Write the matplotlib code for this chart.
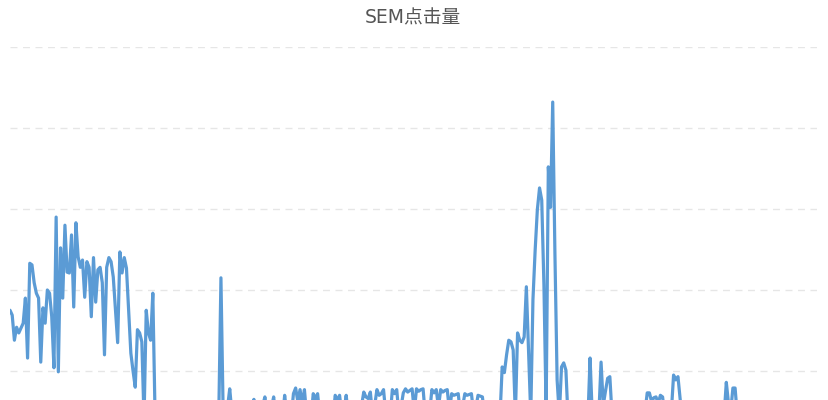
import numpy as np
import matplotlib
matplotlib.use("Agg")
import matplotlib.pyplot as plt

plt.rcParams['font.family'] = ['Noto Sans CJK SC', 'DejaVu Sans']

title = "SEM点击量"

# daily SEM clicks (segments in order)
clicks_seg1 = [175, 169, 138, 154, 147, 153, 159, 190, 116, 233, 231, 209, 196, 190, 111, 178,
               159, 200, 196, 167, 104, 290, 99, 252, 190, 280, 222, 221, 268, 179, 283, 241,
               228, 237,
               191, 235, 228, 167, 240, 185, 225, 228, 209, 120, 228, 240, 235, 216, 175, 135,
               247, 221, 240, 227, 175, 122, 100, 80, 151, 147, 136, 40, 175, 147, 138, 196]
clicks_seg2 = [48, 35, 52, 40, 30, 45, 55, 38, 42, 50, 33, 47, 58, 36, 41, 53, 44, 30, 49, 56,
               39, 45, 51, 34, 43, 57, 46, 37, 50, 42,
               215, 50, 40, 55, 78, 48,
               42, 55, 38, 50, 46, 58, 35, 44, 52, 65, 45, 53, 40, 57, 68, 48, 36, 55, 68,
               42, 50, 58, 39, 70, 47, 55, 43, 72, 79, 62, 77, 60, 77, 45, 52, 40,
               72, 66, 72, 44, 56, 38, 50, 47, 58, 41, 70, 64, 70, 46, 50, 70, 44,
               52, 37, 55, 48, 40, 57, 74, 68, 66, 74, 45, 58, 77, 70, 72, 77, 48, 55, 42,
               77, 72, 77, 46, 56, 73, 78, 74, 76, 78, 50, 78, 75, 77, 78, 45, 58, 49,
               77, 73, 77, 55, 77, 74, 76, 77, 50, 72, 70, 71, 72, 46, 56,
               72, 70, 71, 72, 48, 54, 70, 69, 68, 45, 52, 40, 58, 47, 36, 55, 44]
clicks_seg3 = [105, 98, 120, 138, 136, 126, 45, 147, 138, 135, 142, 204, 126, 45,
               188, 249, 299, 326, 311, 206, 50, 352, 302, 432, 245, 89, 45, 105, 110, 101, 40]
clicks_seg4 = [48, 37, 55, 42, 50, 35, 58, 44, 40, 116, 45, 52, 38, 47,
               111, 58, 75, 91, 93, 45,
               52, 40, 57, 44, 36, 50, 55, 42, 48, 38, 53, 46, 58, 41, 49,
               73, 73, 62, 67, 68, 60, 70, 68, 45, 54, 40, 50,
               95, 89, 93, 65, 40,
               52, 45, 57, 38, 48, 55, 42, 36, 50, 58, 44, 47, 53, 39, 56, 41, 49, 60, 45,
               86, 60, 50, 79, 79, 45,
               52, 40, 57, 46, 38, 55, 48, 42, 58, 36, 50, 45, 53, 41, 56, 47, 39, 54, 44, 59,
               37, 51, 43, 57, 48, 35, 52, 46, 40, 55, 49, 42, 58, 45]

clicks = clicks_seg1 + clicks_seg2 + clicks_seg3 + clicks_seg4
y_ticks = [0, 100, 200, 300, 400, 500]

W, H = 829, 400
fig = plt.figure(figsize=(W / 100, H / 100), dpi=100)
left, line_right, grid_right, top, bottom = 10, 812, 817, 47, 452
ax = fig.add_axes([left / W, (H - bottom) / H, (grid_right - left) / W, (bottom - top) / H])

n = len(clicks)
x = np.arange(n)
ax.plot(x, clicks, color='#5b9bd5', linewidth=2.3, solid_joinstyle='round',
        solid_capstyle='round')
# the grid extends a little past the last day
ax.set_xlim(0, (n - 1) * (grid_right - left) / (line_right - left))
ax.set_ylim(y_ticks[0], y_ticks[-1])
ax.set_yticks(y_ticks)
ax.yaxis.grid(True, color='#e6e6e6', linestyle=(0, (5, 4)), linewidth=1)
ax.set_axisbelow(True)
for s in ax.spines.values():
    s.set_visible(False)
ax.tick_params(left=False, bottom=False, labelleft=False, labelbottom=False)

fig.text(413 / W, 1 - 18 / H, title, ha='center', va='center', fontsize=13.5,
         color='#555555', family=['DejaVu Sans', 'Noto Sans CJK SC'])

fig.savefig("out.png", dpi=100)
